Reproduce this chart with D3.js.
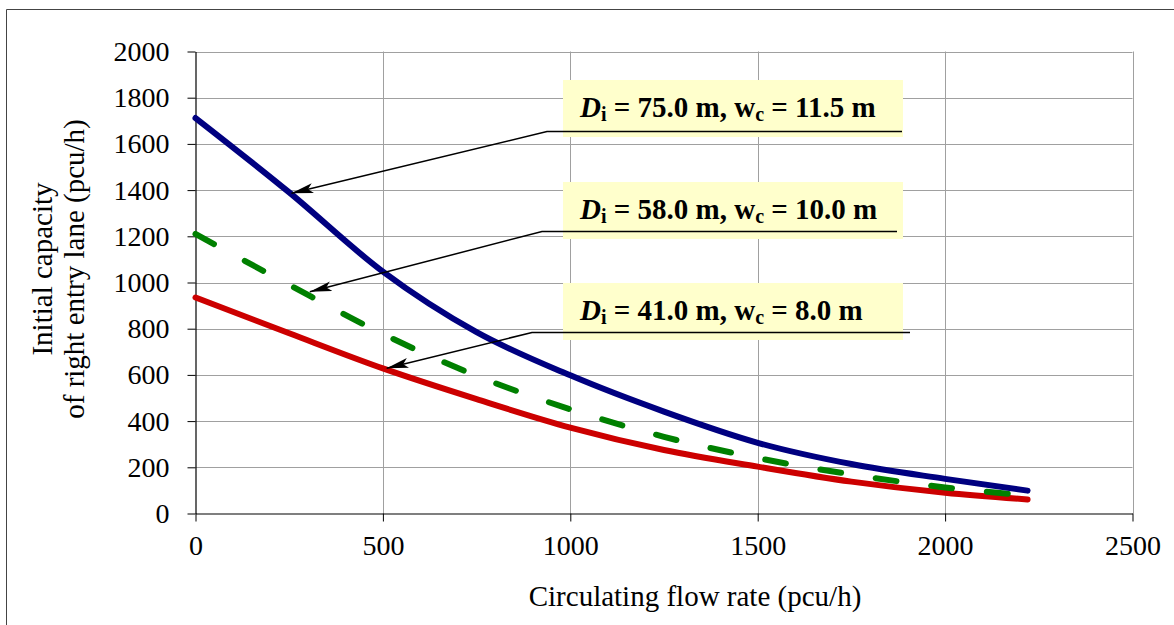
<!DOCTYPE html>
<html>
<head>
<meta charset="utf-8">
<script src="https://cdn.jsdelivr.net/npm/d3@7"></script>
<style>
  body { margin: 0; background: #fff; }
  text { font-family: "Liberation Serif", "Times New Roman", serif; fill: #000; }
</style>
</head>
<body>
<svg id="main_svg" width="1174" height="625"></svg>
<script>
// 数据
var flow = [0, 250, 500, 750, 1000, 1250, 1500, 1750, 2000, 2220];
var capBlue = [1712, 1390, 1047, 785, 598, 441, 306, 214, 150, 99];
var capGreen = [1210, 990, 777, 596, 451, 332, 240, 169, 113, 78];
var capRed = [935, 780, 628, 495, 372, 275, 203, 138, 90, 61];

var xTicks = [0, 500, 1000, 1500, 2000, 2500];
var yTicks = [0, 200, 400, 600, 800, 1000, 1200, 1400, 1600, 1800, 2000];

// labels of the three call-outs
var labelD = ["75.0", "58.0", "41.0"];
var labelW = ["11.5", "10.0", "8.0"];
// where each arrow points (flow, capacity)
var arrowFlow = [256, 305, 510];
var arrowCap = [1386, 960, 629];

var svg = d3.select("#main_svg");

// outer frame
svg.append("path")
    .attr("d", "M6.5,630 L6.5,9.5 L1180,9.5")
    .attr("fill", "none")
    .attr("stroke", "#444")
    .attr("stroke-width", 1);

var x = d3.scaleLinear().domain([0, 2500]).range([195.5, 1132.5]);
var y = d3.scaleLinear().domain([0, 2000]).range([513.5, 51.5]);

// grid
var grid = svg.append("g").attr("id", "grid");
grid.selectAll("line.h")
    .data(yTicks.filter(function(d) { return d > 0; }))
    .enter()
    .append("line")
    .attr("x1", x(0)).attr("x2", x(2500))
    .attr("y1", function(d) { return Math.round(y(d)) + 0.5; })
    .attr("y2", function(d) { return Math.round(y(d)) + 0.5; })
    .attr("stroke", "#a0a0a0");
grid.selectAll("line.v")
    .data(xTicks.filter(function(d) { return d > 0; }))
    .enter()
    .append("line")
    .attr("y1", y(0)).attr("y2", y(2000))
    .attr("x1", function(d) { return Math.round(x(d)) + 0.5; })
    .attr("x2", function(d) { return Math.round(x(d)) + 0.5; })
    .attr("stroke", "#a0a0a0");

// axes
var fmt = d3.format("d");
var xAxis = svg.append("g")
    .attr("transform", "translate(0," + y(0) + ")")
    .call(d3.axisBottom(x).tickValues(xTicks).tickFormat(fmt).tickSize(8).tickSizeOuter(0).tickPadding(14));
var yAxis = svg.append("g")
    .attr("transform", "translate(" + x(0) + ",0)")
    .call(d3.axisLeft(y).tickValues(yTicks).tickFormat(fmt).tickSize(8).tickSizeOuter(0).tickPadding(18));

[xAxis, yAxis].forEach(function(a) {
    a.select(".domain").attr("stroke", "#000").attr("stroke-width", 1.2);
    a.selectAll(".tick line").attr("stroke", "#000");
    a.selectAll(".tick text")
        .attr("font-family", "Liberation Serif, Times New Roman, serif")
        .attr("font-size", 28)
        .attr("fill", "#000");
});

// axis titles
svg.append("text")
    .attr("x", 695)
    .attr("y", 606)
    .attr("text-anchor", "middle")
    .attr("font-size", 29)
    .text("Circulating flow rate (pcu/h)");

var yTitle = svg.append("text")
    .attr("transform", "translate(52,269) rotate(-90)")
    .attr("text-anchor", "middle")
    .attr("font-size", 29);
yTitle.append("tspan").attr("x", 0).attr("dy", 0).text("Initial capacity");
yTitle.append("tspan").attr("x", 0).attr("dy", 32).text("of right entry lane (pcu/h)");

// curves
var line = d3.line()
    .x(function(d, i) { return x(flow[i]); })
    .y(function(d) { return y(d); })
    .curve(d3.curveMonotoneX);

var curves = svg.append("g").attr("id", "curves");
curves.append("path")
    .datum(capRed)
    .attr("d", line)
    .attr("fill", "none")
    .attr("stroke", "#cc0000")
    .attr("stroke-width", 6)
    .attr("stroke-linecap", "round");
curves.append("path")
    .datum(capGreen)
    .attr("d", line)
    .attr("fill", "none")
    .attr("stroke", "#008000")
    .attr("stroke-width", 6)
    .attr("stroke-linecap", "round")
    .attr("stroke-dasharray", "21,35");
curves.append("path")
    .datum(capBlue)
    .attr("d", line)
    .attr("fill", "none")
    .attr("stroke", "#000080")
    .attr("stroke-width", 6)
    .attr("stroke-linecap", "round");

// call-outs
var boxTop = [80, 182, 283];
var lineY = [131.5, 231.5, 332.5];
var lineEnd = [902, 897, 910];
var lineStart = [547, 542, 532];

svg.append("defs").append("marker")
    .attr("id", "arrow")
    .attr("markerUnits", "userSpaceOnUse")
    .attr("markerWidth", 24)
    .attr("markerHeight", 12)
    .attr("refX", 22)
    .attr("refY", 5)
    .attr("orient", "auto")
    .append("path")
    .attr("d", "M0,0 L22,5 L0,10 L5,5 Z")
    .attr("fill", "#000");

var notes = svg.append("g").attr("id", "notes");
labelD.forEach(function(d, i) {
    var g = notes.append("g");
    g.append("rect")
        .attr("x", 563)
        .attr("y", boxTop[i])
        .attr("width", 340)
        .attr("height", 57)
        .attr("fill", "#ffffcc");
    g.append("path")
        .attr("d", "M" + lineEnd[i] + "," + lineY[i] + " L" + lineStart[i] + "," + lineY[i] +
            " L" + x(arrowFlow[i]) + "," + y(arrowCap[i]))
        .attr("fill", "none")
        .attr("stroke", "#000")
        .attr("stroke-width", 1.5)
        .attr("marker-end", "url(#arrow)");
    var t = g.append("text")
        .attr("x", 580)
        .attr("y", boxTop[i] + 37)
        .attr("font-size", 29)
        .attr("font-weight", "bold");
    t.append("tspan").attr("font-style", "italic").text("D");
    t.append("tspan").attr("font-size", 20).attr("dy", 4).text("i");
    t.append("tspan").attr("dy", -4).text(" = " + d + " m, w");
    t.append("tspan").attr("font-size", 20).attr("dy", 4).text("c");
    t.append("tspan").attr("dy", -4).text(" = " + labelW[i] + " m");
});
</script>
</body>
</html>
